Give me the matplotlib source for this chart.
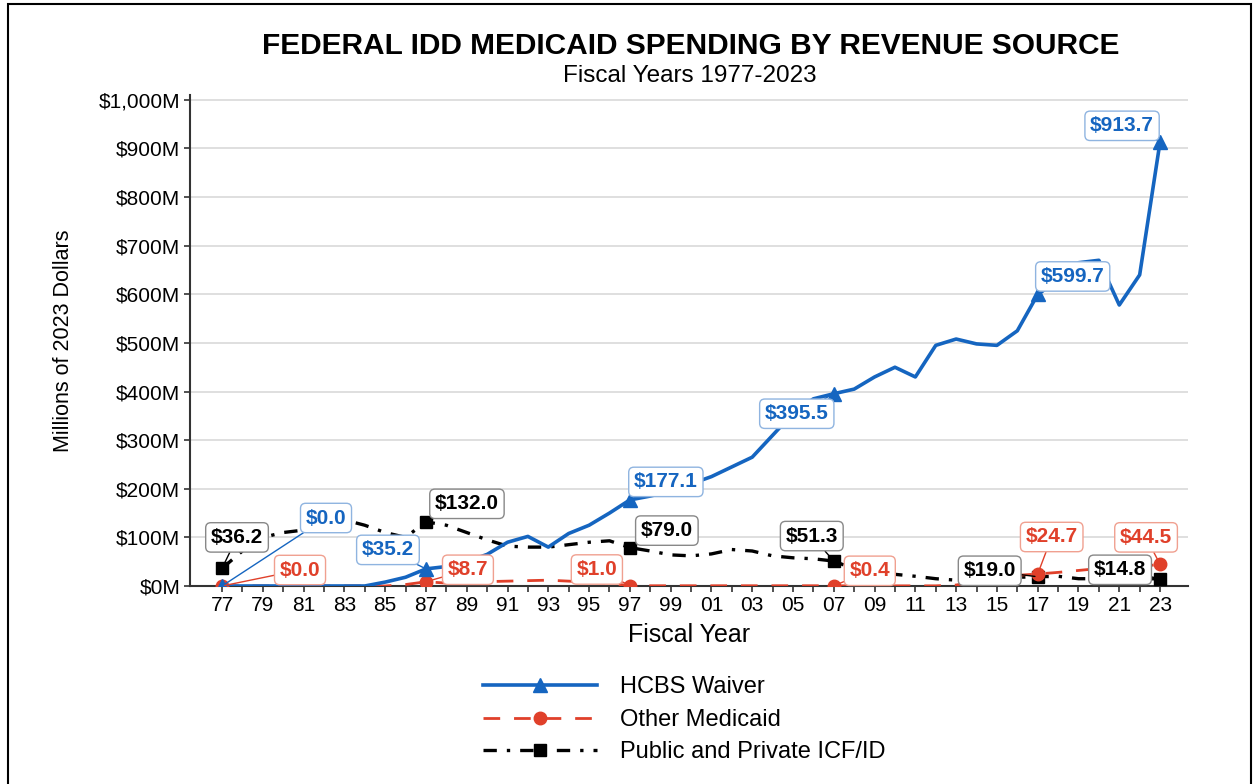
import numpy as np
import matplotlib.pyplot as plt
from matplotlib.lines import Line2D
from matplotlib.patches import Rectangle

plt.rcParams['font.family'] = ['Liberation Sans', 'DejaVu Sans']

# data (millions of 2023 dollars)
years = np.arange(1977, 2024)
hcbs = [0, 0, 0, 0, 0, 0, 0, 0, 8, 18,
        35.2, 40, 50, 65, 90, 102, 80, 108, 125, 150,
        177.1, 185, 195, 210, 225, 245, 265, 310, 355, 385,
        395.5, 405, 430, 450, 430, 495, 508, 498, 495, 525,
        599.7, 630, 665, 670, 578, 640, 913.7]
other = [0, 0, 0, 0, 0, 0, 0, 0, 0, 3,
         8.7, 6, 8, 9, 10, 11, 12, 10, 8, 5,
         1.0, 0.5, 0.5, 0.5, 0.5, 0.5, 0.5, 0.5, 0.5, 0.5,
         0.4, 0.3, 0.3, 0.3, 0.3, 0.3, 2, 10, 18, 22,
         24.7, 28, 32, 36, 38, 40, 44.5]
icf = [36.2, 72, 100, 110, 115, 128, 136, 125, 110, 100,
       132.0, 125, 110, 95, 82, 80, 80, 85, 90, 93,
       79.0, 72, 64, 62, 66, 75, 72, 62, 58, 56,
       51.3, 35, 28, 24, 20, 15, 12, 15, 17, 18,
       19.0, 20, 15, 15, 15, 15, 14.8]
label_years = [1977, 1987, 1997, 2007, 2017, 2023]

blue = '#1565c0'
red = '#e0402a'
black = '#000000'

fig = plt.figure(figsize=(12.55, 7.84), dpi=100)
ax = fig.add_axes([190 / 1255, 1 - 586 / 784, 998 / 1255, 491 / 784])

marks = [list(years).index(y) for y in label_years]
ax.plot(years, icf, color=black, lw=2.4, ls=(0, (4, 3, 1, 3)),
        marker='s', ms=9, markevery=marks, zorder=3)
ax.plot(years, other, color=red, lw=2.0, ls=(0, (6, 5)),
        marker='o', ms=9, markevery=marks, zorder=4)
ax.plot(years, hcbs, color=blue, lw=2.6, ls='-',
        marker='^', ms=10, markevery=marks, zorder=5)

ax.set_xlim(1975.43, 2024.37)
ax.set_ylim(0, 1010)
ax.set_yticks(np.arange(0, 1001, 100))
ax.set_yticklabels(['$0M'] + ['$%dM' % v for v in range(100, 1000, 100)] + ['$1,000M'])
ax.set_xticks(np.arange(1977, 2024, 2))
ax.set_xticklabels(['%02d' % (y % 100) for y in range(1977, 2024, 2)])
ax.set_xticks(years, minor=True)
ax.tick_params(axis='both', labelsize=15, color='#333333', length=4, width=1.2, pad=3)
ax.tick_params(axis='x', which='minor', length=4, width=1.2, color='#333333')
ax.grid(axis='y', color='#d9d9d9', lw=1.2)
ax.set_axisbelow(True)
for s in ['top', 'right']:
    ax.spines[s].set_visible(False)
for s in ['left', 'bottom']:
    ax.spines[s].set_color('#333333')
    ax.spines[s].set_linewidth(1.5)

ax.set_xlabel('Fiscal Year', fontsize=18, labelpad=6)
ax.set_ylabel('Millions of 2023 Dollars', fontsize=15.5, labelpad=18)

fig.text(0.55, 1 - 46 / 784, 'FEDERAL IDD MEDICAID SPENDING BY REVENUE SOURCE',
         ha='center', va='center', fontsize=21.5, fontweight='bold')
fig.text(0.55, 1 - 76 / 784, 'Fiscal Years 1977-2023', ha='center', va='center', fontsize=17.5)


def label(series, year, dx, dy, color, edge):
    v = series[list(years).index(year)]
    ax.annotate('$%.1f' % v, xy=(year, v), xytext=(dx, dy), textcoords='offset pixels',
                ha='center', va='center', fontsize=15, fontweight='bold', color=color,
                bbox=dict(boxstyle='round,pad=0.25', fc='white', ec=edge, lw=1),
                arrowprops=dict(arrowstyle='-', color=color, lw=1, shrinkA=0, shrinkB=2),
                zorder=6)


label(icf, 1977, 15, 31, black, '#888888')
label(hcbs, 1977, 104, 68, blue, '#8fb4e0')
label(other, 1977, 78, 16, red, '#f0a090')
label(hcbs, 1987, -38, 19, blue, '#8fb4e0')
label(icf, 1987, 41, 18, black, '#888888')
label(other, 1987, 42, 12, red, '#f0a090')
label(other, 1997, -33, 16, red, '#f0a090')
label(icf, 1997, 37, 17, black, '#888888')
label(hcbs, 1997, 36, 18, blue, '#8fb4e0')
label(icf, 2007, -22, 25, black, '#888888')
label(other, 2007, 36, 15, red, '#f0a090')
label(hcbs, 2007, -37, -20, blue, '#8fb4e0')
label(icf, 2017, -48, 6, black, '#888888')
label(other, 2017, 14, 37, red, '#f0a090')
label(hcbs, 2017, 35, 18, blue, '#8fb4e0')
label(icf, 2023, -40, 9, black, '#888888')
label(other, 2023, -14, 27, red, '#f0a090')
label(hcbs, 2023, -38, 16, blue, '#8fb4e0')

handles = [
    Line2D([], [], color=blue, lw=2.6, marker='^', ms=10),
    Line2D([], [], color=red, lw=2.0, ls=(0, (6, 5)), marker='o', ms=9),
    Line2D([], [], color=black, lw=2.4, ls=(0, (4, 3, 1, 3)), marker='s', ms=9),
]
fig.legend(handles, ['HCBS Waiver', 'Other Medicaid', 'Public and Private ICF/ID'],
           loc='upper left', bbox_to_anchor=(462 / 1255, 1 - 655 / 784), frameon=False,
           fontsize=17, handlelength=4.8, handletextpad=1.0, labelspacing=0.45)

fig.patches.append(Rectangle((8 / 1255, -0.01), 1243 / 1255, 1.01 - 4 / 784,
                             transform=fig.transFigure, fill=False, ec='black', lw=1.5))

fig.savefig('out.png', dpi=100)
